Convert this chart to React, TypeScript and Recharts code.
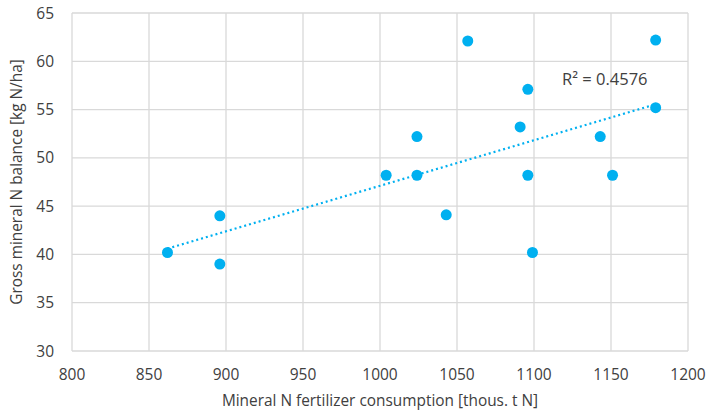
import React from "react";
import {
  ScatterChart,
  Scatter,
  XAxis,
  YAxis,
  CartesianGrid,
  ReferenceLine,
  ReferenceDot,
  Label,
} from "recharts";

const fertilizer = [862, 896, 896, 1004, 1024, 1024, 1043, 1057, 1091, 1096, 1096, 1099, 1143, 1151, 1179, 1179];
const balance = [40.2, 44.0, 39.0, 48.2, 52.2, 48.2, 44.1, 62.1, 53.2, 57.1, 48.2, 40.2, 52.2, 48.2, 62.2, 55.2];
const xTicks = [800, 850, 900, 950, 1000, 1050, 1100, 1150, 1200];
const yTicks = [30, 35, 40, 45, 50, 55, 60, 65];
const trendX = [862, 1178];
const trendY = [40.6, 55.5];
const r2Text = "R² = 0.4576";
const r2Pos = { x: 1146, y: 58.1 };

const points = fertilizer.map((x, i) => ({ x, y: balance[i] }));

const FONT = "'Open Sans', sans-serif";
const TEXT = "#404040";

export default function App() {
  return (
    <div style={{ position: "absolute", left: 0, top: 0, width: 710, height: 416, background: "#fff" }}>
      <ScatterChart width={710} height={416} margin={{ top: 13, right: 22, bottom: 5, left: 17 }}>
        <CartesianGrid stroke="#d9d9d9" strokeWidth={1.3} />
        <XAxis
          type="number"
          dataKey="x"
          domain={[800, 1200]}
          ticks={xTicks}
          axisLine={false}
          tickLine={false}
          tickMargin={12}
          height={60}
          tick={{ fill: TEXT, fontSize: 15.5, fontFamily: FONT }}
        >
          <Label
            value="Mineral N fertilizer consumption [thous. t N]"
            position="insideBottom"
            offset={5}
            style={{ fill: TEXT, fontSize: 15.4, fontFamily: FONT }}
          />
        </XAxis>
        <YAxis
          type="number"
          dataKey="y"
          domain={[30, 65]}
          ticks={yTicks}
          axisLine={false}
          tickLine={false}
          tickMargin={12}
          width={55}
          tick={{ fill: TEXT, fontSize: 15.5, fontFamily: FONT }}
        >
          <Label
            value="Gross mineral N balance [kg N/ha]"
            angle={-90}
            position="insideLeft"
            offset={0}
            style={{ fill: TEXT, fontSize: 15.4, fontFamily: FONT, textAnchor: "middle" }}
          />
        </YAxis>
        <ReferenceLine
          segment={[
            { x: trendX[0], y: trendY[0] },
            { x: trendX[1], y: trendY[1] },
          ]}
          stroke="#00b0f0"
          strokeWidth={2.2}
          strokeDasharray="2 3"
          ifOverflow="visible"
        />
        <Scatter data={points} fill="#00b0f0" isAnimationActive={false} shape={(p: any) => <circle cx={p.cx} cy={p.cy} r={5.5} fill="#00b0f0" />} />
        <ReferenceDot
          x={r2Pos.x}
          y={r2Pos.y}
          r={0}
          fill="none"
          stroke="none"
          label={{ value: r2Text, position: "center", fill: TEXT, fontSize: 16.5, fontFamily: FONT }}
        />
      </ScatterChart>
    </div>
  );
}
